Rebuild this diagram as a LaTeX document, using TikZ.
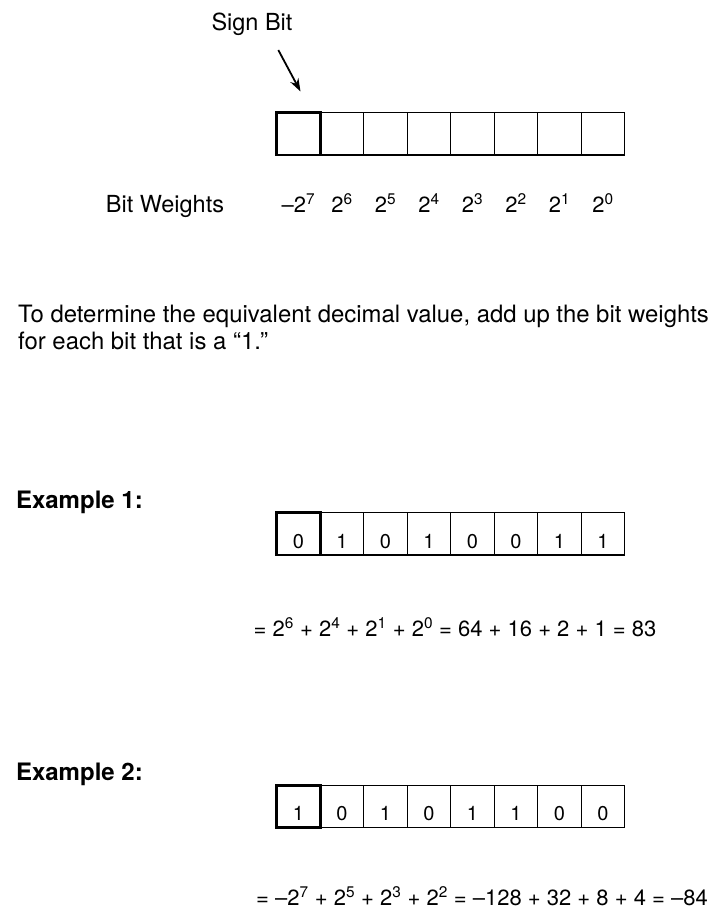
\documentclass[tikz,border=0pt]{standalone}
\usepackage{fontspec}
\setmainfont{TeX Gyre Heros}
\usetikzlibrary{arrows.meta}
\newcommand{\sps}[1]{\textsuperscript{#1}}
\begin{document}
\begin{tikzpicture}[x=1pt,y=-1pt,
  lbl/.style={font=\fontsize{23.5}{28}\selectfont, inner sep=0pt, anchor=base},
  para/.style={font=\fontsize{23.9}{28}\selectfont, inner sep=0pt, anchor=base west},
  exlbl/.style={font=\fontsize{24}{28}\selectfont\bfseries, inner sep=0pt, anchor=base west},
  wt/.style={font=\fontsize{22}{26}\selectfont, inner sep=0pt, anchor=base},
  eqn/.style={font=\fontsize{22}{26}\selectfont, inner sep=0pt, anchor=base},
  cell/.style={draw, line width=1.4pt, minimum width=43.5pt, minimum height=42.5pt,
    inner sep=0pt, text height=28.5pt, text depth=0pt, font=\fontsize{20}{24}\selectfont},
  signcell/.style={cell, line width=2.6pt},
  pointer/.style={line width=1.8pt, -{Stealth[length=13pt,width=9pt]}}
]
\useasboundingbox (0,0) rectangle (715,913);

% top register
\node[lbl] (sb) at (252,30) {Sign Bit};
\foreach \i in {2,...,8}
  \node[cell] (t\i) at ({276.7+43.5*(\i-0.5)},133.9) {};
\node[signcell] (t1) at ({276.7+43.5*0.5},133.9) {};
\coordinate (sbtail) at (278.3,50);
\coordinate (sbtip) at (300.5,91.5);
\draw[pointer] (sbtail) -- (sbtip);

\node[lbl] (bw) at (165,212) {Bit Weights};
\foreach \i/\w in {1/{–2\sps{7}},2/{2\sps{6}},3/{2\sps{5}},4/{2\sps{4}},5/{2\sps{3}},6/{2\sps{2}},7/{2\sps{1}},8/{2\sps{0}}}
  \node[wt] (w\i) at ({276.7+43.5*(\i-0.5)},212) {\w};

% explanation
\node[para] (p1) at (18,322) {To determine the equivalent decimal value, add up the bit weights};
\node[para] (p2) at (18,349) {for each bit that is a “1.”};

% example 1
\node[exlbl] (ex1) at (16,508) {Example 1:};
\foreach \i/\b in {2/1,3/0,4/1,5/0,6/0,7/1,8/1}
  \node[cell] (a\i) at ({276.7+43.5*(\i-0.5)},533.9) {\b};
\node[signcell] (a1) at ({276.7+43.5*0.5},533.9) {0};
\node[eqn] (e1) at (455,636) {= 2\sps{6} + 2\sps{4} + 2\sps{1} + 2\sps{0} = 64 + 16 + 2 + 1 = 83};

% example 2
\node[exlbl] (ex2) at (16,780) {Example 2:};
\foreach \i/\b in {2/0,3/1,4/0,5/1,6/1,7/0,8/0}
  \node[cell] (c\i) at ({276.7+43.5*(\i-0.5)},806.5) {\b};
\node[signcell] (c1) at ({276.7+43.5*0.5},806.5) {1};
\node[eqn] (e2) at (482,905) {= –2\sps{7} + 2\sps{5} + 2\sps{3} + 2\sps{2} = –128 + 32 + 8 + 4 = –84};
\end{tikzpicture}
\end{document}
